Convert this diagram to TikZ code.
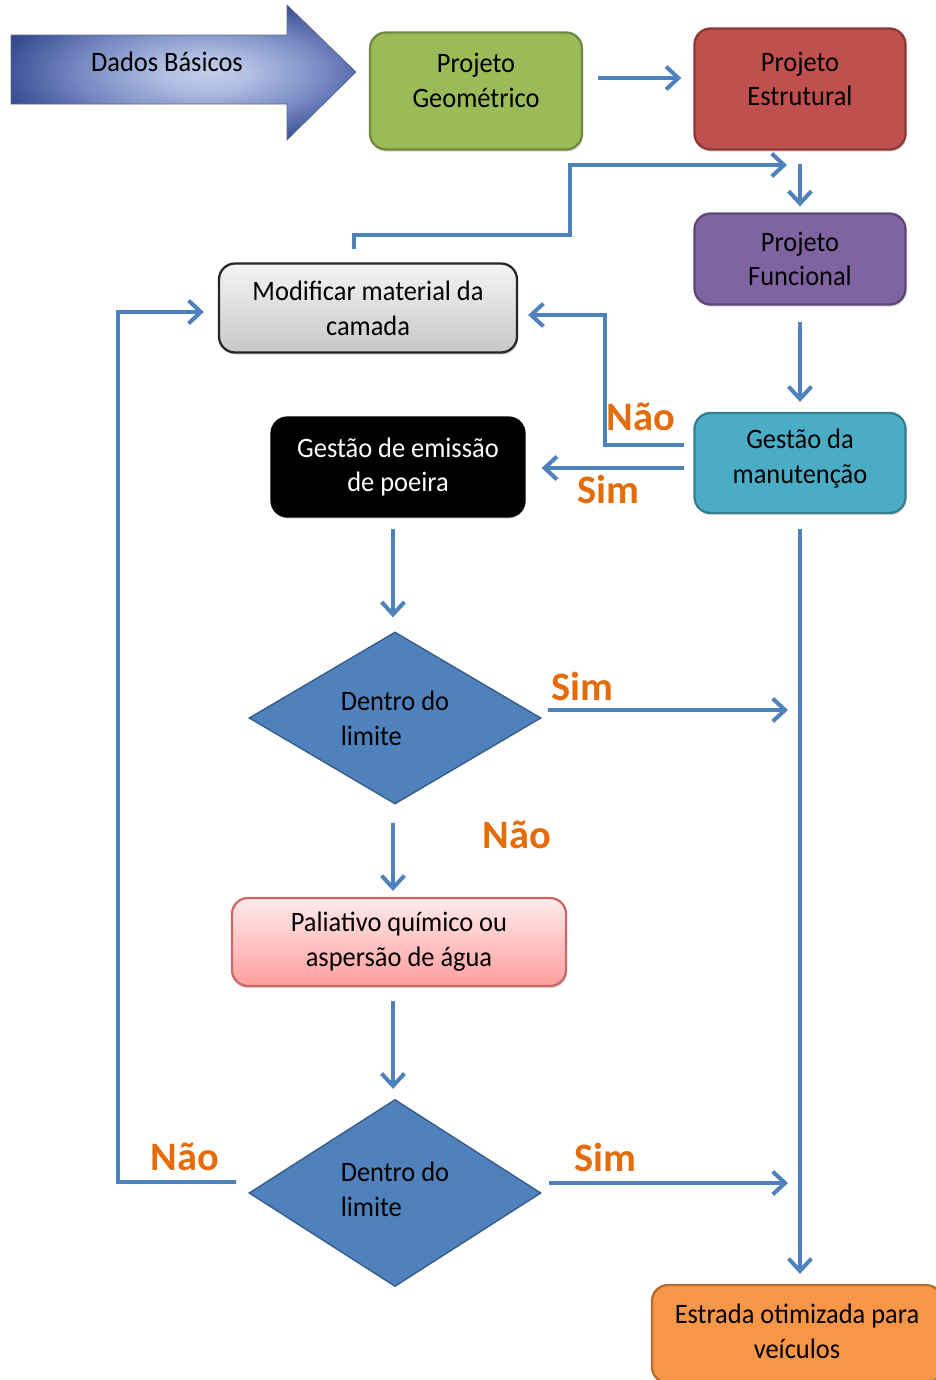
\documentclass[tikz,border=0pt]{standalone}
\usepackage{fontspec}
\setmainfont{Carlito}[FakeStretch=0.94]
\newfontfamily\lblfont{Carlito}
\usetikzlibrary{arrows.meta,shapes.geometric,shadows}

\definecolor{lineblue}{HTML}{4F81BD}
\definecolor{lblorange}{HTML}{E46C0A}
\definecolor{geofill}{HTML}{9BBB59}
\definecolor{geoline}{HTML}{71893F}
\definecolor{estfill}{HTML}{C0504D}
\definecolor{estline}{HTML}{8C3836}
\definecolor{funfill}{HTML}{8064A2}
\definecolor{funline}{HTML}{5C4776}
\definecolor{manfill}{HTML}{4BACC6}
\definecolor{manline}{HTML}{357D91}
\definecolor{diafill}{HTML}{4F81BD}
\definecolor{dialine}{HTML}{385D8A}
\definecolor{orgfill}{HTML}{F79646}
\definecolor{orgline}{HTML}{B66D31}
\definecolor{palline}{HTML}{C96A68}
\definecolor{dadosA}{HTML}{C2CDE8}
\definecolor{dadosB}{HTML}{B2C0E2}
\definecolor{dadosC}{HTML}{7688C2}
\definecolor{dadosD}{HTML}{3A4E92}
\definecolor{dadosE}{HTML}{1C2B66}

\newcommand\unitpx{0.02cm}

% light centre fading to dark navy towards the edges of the input arrow
\pgfdeclareradialshading{dadosshade}{\pgfpoint{4bp}{0bp}}{%
  color(0bp)=(dadosA); color(6bp)=(dadosB); color(18bp)=(dadosC);
  color(28bp)=(dadosD); color(36bp)=(dadosE); color(50bp)=(dadosE)}

\begin{document}
\begin{tikzpicture}[x=0.02cm, y=-0.02cm,
  every node/.style={font=\fontsize{16}{19.8}\selectfont, align=center},
  box/.style={rectangle, rounded corners=0.32cm, line width=1.3pt,
    drop shadow={shadow xshift=0.6pt, shadow yshift=-1.2pt, opacity=0.3}},
  decision/.style={diamond, fill=diafill, draw=dialine, line width=0.8pt,
    minimum width=292*\unitpx, align=left, inner sep=0pt},
  conn/.style={draw=lineblue, line width=2.3pt},
  arr/.style={conn, -{Straight Barb[length=7pt, width=13pt]}},
  lbl/.style={font=\lblfont\bfseries\fontsize{23}{26}\selectfont, text=lblorange}
]
\useasboundingbox (0,0) rectangle (936,1380);
\clip (0,0) rectangle (936,1380);

% input arrow
\path[shading=dadosshade, draw=dadosE!70, line width=0.4pt]
  (11,35) -- (287,35) -- (287,5) -- (356,72) -- (287,140) -- (287,104) -- (11,104) -- cycle;
\node (dados) at (167,62) {Dados Básicos};

% process boxes
\node[box, fill=geofill, draw=geoline, minimum width=212*\unitpx, minimum height=117*\unitpx,
  text depth=12.5pt] (geo) at (476,91) {Projeto\\Geométrico};
\node[box, fill=estfill, draw=estline, minimum width=211*\unitpx, minimum height=121*\unitpx,
  text depth=11.5pt] (estr) at (800,89) {Projeto\\Estrutural};
\node[box, fill=funfill, draw=funline, minimum width=211*\unitpx, minimum height=91*\unitpx]
  (func) at (800,259) {Projeto\\Funcional};
\node[box, top color=white!96!black, bottom color=black!22, draw=black!85,
  minimum width=298*\unitpx, minimum height=89*\unitpx]
  (mod) at (368,308) {Modificar material da\\camada};
\node[box, fill=manfill, draw=manline, minimum width=211*\unitpx, minimum height=100*\unitpx,
  text depth=7.5pt] (manut) at (800,463) {Gestão da\\manutenção};
\node[box, fill=black, draw=black, text=white, minimum width=253*\unitpx, minimum height=99*\unitpx]
  (poeira) at (398,467) {Gestão de emissão\\de poeira};
\node[decision, minimum height=172*\unitpx] (d1) at (395,718) {Dentro do\\limite};
\node[box, top color=red!8, bottom color=red!38!white, draw=palline,
  minimum width=334*\unitpx, minimum height=88*\unitpx]
  (pal) at (399,942) {Paliativo químico ou\\aspersão de água};
\node[decision, minimum height=187*\unitpx, text depth=4.5pt] (d2) at (395,1193) {Dentro do\\limite};
\node[box, fill=orgfill, draw=orgline, minimum width=290*\unitpx, minimum height=98*\unitpx,
  text depth=3.5pt] (estrada) at (797,1334) {Estrada otimizada para\\veículos};

% free ends of connectors
\coordinate (top) at (787,165);
\coordinate (sim1) at (788,710);
\coordinate (sim2) at (788,1183);

% connectors
\draw[arr] ([xshift=15*\unitpx, yshift=13*\unitpx]geo.east) -- ([xshift=-12*\unitpx, yshift=11*\unitpx]estr.west);
\draw[arr] ([yshift=-13*\unitpx]estr.south) -- ([yshift=6*\unitpx]func.north);
\draw[arr] ([xshift=-14*\unitpx, yshift=13*\unitpx]mod.north) -- (354,235) -- (570,235) -- (570,165) -- (top);
\draw[arr] ([yshift=-16*\unitpx]func.south) -- ([yshift=10*\unitpx]manut.north);
\draw[arr] ([xshift=-9*\unitpx, yshift=18*\unitpx]manut.west) -| (605,315) -- ([xshift=10*\unitpx, yshift=-7*\unitpx]mod.east);
\draw[arr] ([xshift=-9*\unitpx, yshift=-5*\unitpx]manut.west) -- ([xshift=16*\unitpx, yshift=-1*\unitpx]poeira.east);
\draw[arr] ([xshift=-5*\unitpx, yshift=-11*\unitpx]poeira.south) -- ([xshift=-2*\unitpx, yshift=14*\unitpx]d1.north);
\draw[arr] ([xshift=6*\unitpx, yshift=8*\unitpx]d1.east) -- (sim1);
\draw[arr] ([xshift=-2*\unitpx, yshift=-18*\unitpx]d1.south) -- ([xshift=-6*\unitpx, yshift=6*\unitpx]pal.north);
\draw[arr] ([xshift=-6*\unitpx, yshift=-14*\unitpx]pal.south) -- ([xshift=-2*\unitpx, yshift=10*\unitpx]d2.north);
\draw[arr] ([xshift=-12*\unitpx, yshift=11*\unitpx]d2.west) -- (118,1182) -- (118,312) -- ([xshift=-14*\unitpx, yshift=-4*\unitpx]mod.west);
\draw[arr] ([xshift=7*\unitpx, yshift=10*\unitpx]d2.east) -- (sim2);
\draw[arr] ([yshift=-15*\unitpx]manut.south) -- ([xshift=3*\unitpx, yshift=10*\unitpx]estrada.north);

% branch labels
\node[lbl] (l1) at (641,417) {Não};
\node[lbl] (l2) at (608,489) {Sim};
\node[lbl] (l3) at (582,686) {Sim};
\node[lbl] (l4) at (517,835) {Não};
\node[lbl] (l5) at (185,1157) {Não};
\node[lbl] (l6) at (605,1157) {Sim};
\end{tikzpicture}
\end{document}
